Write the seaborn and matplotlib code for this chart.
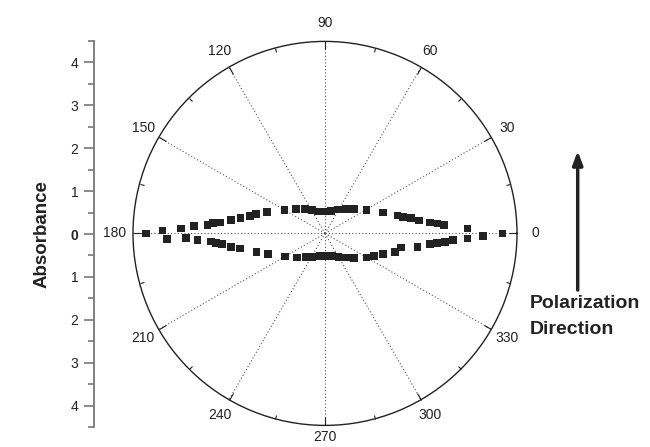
import matplotlib
matplotlib.use("Agg")
import matplotlib.pyplot as plt
import numpy as np
import pandas as pd
import seaborn as sns

# polarized absorbance, angle in degrees
angle_deg = [
    0, 2.0, 4.0, 5.1, 6.0, 7.9, 10.0, 12.0, 14.0, 19.9, 29.3, 39.8, 49.3, 61.1, 75.0,
    90.0, 106.9, 119.6, 129.3, 139.9, 150.1, 159.9, 164.5, 166.9, 169.8, 171.9, 174.0,
    174.8, 175.8, 176.8, 178.0, 179.0, 180.0, 182.0, 182.0, 183.0, 184.0, 185.2, 186.0,
    188.1, 190.2, 195.2, 200.1, 210.2, 220.7, 231.5, 242.2, 257.4, 274.3, 287.0, 299.7,
    310.8, 319.6, 329.8, 335.4, 340.3, 345.1, 349.6, 351.8, 354.1, 355.0, 356.0, 357.1,
    358.0, 359.1,
]
absorbance = [
    4.16, 3.34, 2.80, 2.65, 2.47, 2.23, 2.04, 1.87, 1.75, 1.45, 1.12, 0.89, 0.75, 0.64, 0.55,
    0.51, 0.54, 0.63, 0.74, 0.89, 1.10, 1.44, 1.68, 1.80, 2.01, 2.23, 2.47,
    2.63, 2.76, 3.07, 3.37, 3.81, 4.19, 3.70, 3.26, 2.99, 2.68, 2.56, 2.43,
    2.22, 2.02, 1.66, 1.42, 1.08, 0.87, 0.71, 0.62, 0.54, 0.53, 0.56, 0.63,
    0.75, 0.90, 1.13, 1.27, 1.45, 1.70, 1.81, 2.19, 2.47, 2.64, 2.82, 3.01,
    3.34, 3.71,
]
theta_ticks = list(range(0, 360, 30))
abs_ticks = [-4, -3, -2, -1, 0, 1, 2, 3, 4]
abs_labels = ["4", "3", "2", "1", "0", "1", "2", "3", "4"]

sns.set_style("white")
plt.rcParams["font.family"] = ["Liberation Sans", "DejaVu Sans"]
ink = "#222222"

df = pd.DataFrame({"theta": np.deg2rad(angle_deg), "r": absorbance})

fig = plt.figure(figsize=(6.5, 4.47), dpi=100)
W, H = 650, 447
cx, cy, rad = 325, 233.4, 192
ax = fig.add_axes([(cx - rad) / W, (H - cy - rad) / H, 2 * rad / W, 2 * rad / H],
                  projection="polar")
sns.scatterplot(data=df, x="theta", y="r", marker="s", s=30, color=ink,
                edgecolor="none", ax=ax, zorder=3, clip_on=False)
ax.set_xlabel("")
ax.set_ylabel("")
ax.set_ylim(0, 4.5)
ax.set_yticks([])
ax.set_xticks(np.deg2rad(theta_ticks))
# the 270 label sits closer to the circle in the original, drawn separately below
ax.set_xticklabels(["" if t == 270 else str(t) for t in theta_ticks], fontsize=10, color=ink)
ax.set_xticks(np.deg2rad(np.arange(15, 360, 30)), minor=True)
ax.tick_params(axis="x", which="both", bottom=False, top=True, direction="in",
               width=0.8, color=ink)
ax.tick_params(axis="x", which="major", length=6, pad=6)
ax.tick_params(axis="x", which="minor", length=3)
ax.grid(axis="x", linestyle=(0, (1, 2)), color="#555555", linewidth=0.8)
ax.spines["polar"].set_linewidth(1.0)
ax.spines["polar"].set_color(ink)
fig.text(cx / W, 1 - 437 / H, "270", ha="center", va="center", fontsize=10, color=ink)

# linear absorbance scale on the left
ax2 = fig.add_axes([93.5 / W, 20 / H, 0.01, 386 / H])
ax2.set_facecolor("none")
for s in ["top", "right", "bottom"]:
    ax2.spines[s].set_visible(False)
ax2.spines["left"].set_color("#777777")
ax2.spines["left"].set_linewidth(1.3)
ax2.set_xticks([])
ax2.set_ylim(-4.5, 4.5)
ax2.set_yticks(abs_ticks)
ax2.set_yticklabels(abs_labels, fontsize=10, color=ink)
ax2.set_yticks(np.arange(-4.5, 4.6, 1.0), minor=True)
ax2.tick_params(axis="y", which="both", left=True, right=False, direction="out",
                width=1.2, color="#777777")
ax2.tick_params(axis="y", which="major", length=7, pad=4)
ax2.tick_params(axis="y", which="minor", length=4)
for lab in ax2.get_yticklabels():
    if lab.get_text() == "0":
        lab.set_fontweight("bold")

fig.text(42 / W, 1 - 234 / H, "Absorbance", rotation=90, ha="center", va="center",
         fontsize=13.5, fontweight="bold", color=ink)

ax.annotate("", xy=(577.7 / W, 1 - 151 / H), xytext=(577.7 / W, 1 - 290 / H),
            xycoords="figure fraction", textcoords="figure fraction",
            arrowprops=dict(arrowstyle="-|>,head_length=0.8,head_width=0.3",
                            lw=2.5, color=ink, shrinkA=0, shrinkB=0))
fig.text(530 / W, 1 - 304 / H, "Polarization", ha="left", va="center",
         fontsize=14, fontweight="bold", color=ink)
fig.text(530 / W, 1 - 330 / H, "Direction", ha="left", va="center",
         fontsize=14, fontweight="bold", color=ink)

fig.savefig("out.png", dpi=100)
